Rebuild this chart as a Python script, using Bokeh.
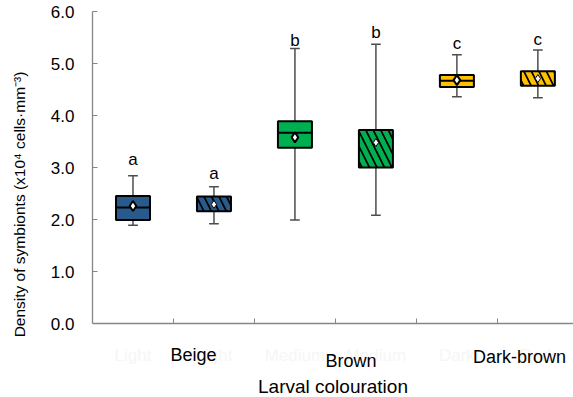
from bokeh.plotting import figure
from bokeh.models import Range1d, FixedTicker, Label, PrintfTickFormatter
from bokeh.core.properties import value
from bokeh.embed import file_html
from bokeh.resources import INLINE

# ---- data ----
faint_labels = ["Light", "Light", "Medium", "Medium", "Dark", "Dark"]
colour_groups = ["Beige", "Brown", "Dark-brown"]
positions = [0, 1, 2, 3, 4, 5]
whisker_low = [1.89, 1.92, 1.99, 2.08, 4.36, 4.34]
q1 = [1.99, 2.16, 3.38, 3.00, 4.55, 4.57]
medians = [2.23, 2.30, 3.67, 3.40, 4.67, 4.72]
q3 = [2.45, 2.44, 3.89, 3.72, 4.78, 4.85]
whisker_high = [2.84, 2.63, 5.29, 5.37, 5.17, 5.26]
means = [2.26, 2.29, 3.58, 3.48, 4.68, 4.71]
letters = ["a", "a", "b", "b", "c", "c"]
letter_y = [3.15, 2.88, 5.44, 5.60, 5.39, 5.46]
hatched = [False, True, False, True, False, True]
y_ticks = [0, 1, 2, 3, 4, 5, 6]

# ---- styles ----
palette = ["#285A8C", "#285A8C", "#00B050", "#00B050", "#FFC000", "#FFC000"]
FONT = "Liberation Sans"
BOX_W = 0.42
CAP_W = 0.12

p = figure(width=573, height=397, x_range=Range1d(-0.5, 5.44), y_range=Range1d(-1.423, 6),
           output_backend="svg", toolbar_location=None,
           min_border_left=92, min_border_right=0, min_border_top=11, min_border_bottom=0)
p.outline_line_color = None
p.xgrid.visible = False
p.ygrid.visible = False
p.background_fill_color = "white"
p.border_fill_color = "white"

# whiskers and caps
p.segment(x0=positions, y0=whisker_low, x1=positions, y1=whisker_high,
          line_color="#4d4d4d", line_width=1.5)
p.segment(x0=[x - CAP_W / 2 for x in positions], y0=whisker_high,
          x1=[x + CAP_W / 2 for x in positions], y1=whisker_high,
          line_color="#4d4d4d", line_width=1.5)
p.segment(x0=[x - CAP_W / 2 for x in positions], y0=whisker_low,
          x1=[x + CAP_W / 2 for x in positions], y1=whisker_low,
          line_color="#4d4d4d", line_width=1.5)

solid = [i for i in range(6) if not hatched[i]]
hatch = [i for i in range(6) if hatched[i]]

# solid boxes
p.vbar(x=[positions[i] for i in solid], width=BOX_W,
       bottom=[q1[i] for i in solid], top=[q3[i] for i in solid],
       fill_color=[palette[i] for i in solid], line_color="black", line_width=2)
# hatched boxes
p.vbar(x=[positions[i] for i in hatch], width=BOX_W,
       bottom=[q1[i] for i in hatch], top=[q3[i] for i in hatch],
       fill_color="black", hatch_pattern="\\", hatch_color=[palette[i] for i in hatch],
       hatch_weight=5, hatch_scale=15, line_color="black", line_width=2)

# medians (visible on solid boxes)
p.segment(x0=[positions[i] - BOX_W / 2 for i in solid], y0=[medians[i] for i in solid],
          x1=[positions[i] + BOX_W / 2 for i in solid], y1=[medians[i] for i in solid],
          line_color="black", line_width=2)

# means
p.scatter(x=[positions[i] for i in solid], y=[means[i] for i in solid], marker="diamond",
          size=10, fill_color="white", line_color="black", line_width=2)
p.scatter(x=[positions[i] for i in hatch], y=[means[i] for i in hatch], marker="diamond",
          size=8, fill_color="white", line_color="black", line_width=1)

# significance letters
p.text(x=positions, y=letter_y, text=letters, text_align="center", text_baseline="alphabetic",
       text_font=value(FONT), text_font_size="17px", text_color="black")

# axes
p.yaxis.ticker = FixedTicker(ticks=y_ticks)
p.yaxis.bounds = (0, 6)
p.yaxis.formatter = PrintfTickFormatter(format="%.1f")
p.yaxis.major_tick_in = 5
p.yaxis.major_tick_out = 0
p.yaxis.minor_tick_line_color = None
p.yaxis.axis_line_color = "#868686"
p.yaxis.axis_line_width = 1.3
p.yaxis.major_tick_line_color = "#868686"
p.yaxis.major_label_text_font = FONT
p.yaxis.major_label_text_font_size = "17px"
p.yaxis.major_label_text_color = "black"
p.yaxis.major_label_standoff = 18
p.yaxis.axis_label = "Density of symbionts (x10\u2074 cells\u00b7mm\u207b\u00b3)"
p.yaxis.axis_label_text_font = FONT
p.yaxis.axis_label_text_font_size = "15.5px"
p.yaxis.axis_label_text_font_style = "normal"
p.yaxis.axis_label_text_color = "black"
p.yaxis.axis_label_standoff = 20

bounds = [0.5, 1.5, 2.5, 3.5, 4.5]
p.xaxis.fixed_location = 0
p.xaxis.ticker = FixedTicker(ticks=bounds)
p.xaxis.major_label_overrides = {b: "" for b in bounds}
p.xaxis.major_tick_in = 5
p.xaxis.major_tick_out = 0
p.xaxis.minor_tick_line_color = None
p.xaxis.axis_line_color = "#868686"
p.xaxis.axis_line_width = 1.3
p.xaxis.major_tick_line_color = "#868686"
p.xaxis.axis_label = "Larval colouration"
p.xaxis.axis_label_text_font = FONT
p.xaxis.axis_label_text_font_size = "19px"
p.xaxis.axis_label_text_font_style = "normal"
p.xaxis.axis_label_text_color = "black"
p.xaxis.axis_label_standoff = 52

# faint sub-labels under each box
for x, t in zip(positions, faint_labels):
    p.add_layout(Label(x=x, y=-0.615, text=t, text_align="center", text_baseline="alphabetic",
                       text_font=FONT, text_font_size="17px", text_color="#f6f6f6"))

# colour group labels
group_x = [0.463, 2.377, 4.20]
group_y = [-0.615, -0.712, -0.635]
for x, y, t in zip(group_x, group_y, colour_groups):
    p.add_layout(Label(x=x, y=y, text=t, text_align="left", text_baseline="alphabetic",
                       text_font=FONT, text_font_size="18px", text_color="black"))

open("out.html", "w").write(file_html(p, INLINE))
